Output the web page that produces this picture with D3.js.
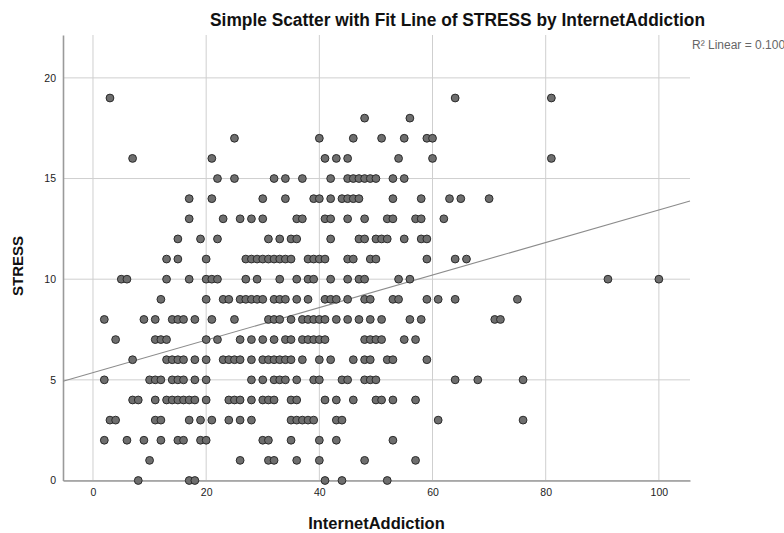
<!DOCTYPE html>
<html><head><meta charset="utf-8">
<script src="https://cdn.jsdelivr.net/npm/d3@7"></script>
<style>
html,body{margin:0;padding:0;background:#fff;overflow:hidden}
svg{display:block;font-family:"Liberation Sans",Arial,sans-serif}
</style></head>
<body><svg id="chart" width="784" height="533"></svg>
<script>
// ---- data ----
const chartTitle = "Simple Scatter with Fit Line of STRESS by InternetAddiction";
const xTitle = "InternetAddiction";
const yTitle = "STRESS";
const r2Label = "R\u00B2 Linear = 0.100";
const xTicks = [0, 20, 40, 60, 80, 100];
const yTicks = [0, 5, 10, 15, 20];
const stressLevels = [0,1,2,3,4,5,6,7,8,9,10,11,12,13,14,15,16,17,18,19];
// InternetAddiction values of the points found at each STRESS level
const addictionAtLevel = [
  [8,17,18,41,44,52],
  [10,26,31,32,36,40,48,57],
  [2,6,9,12,15,16,19,20,30,31,35,40,43,53],
  [3,4,11,12,17,19,21,24,26,28,35,36,37,38,39,43,44,61,76],
  [7,8,11,13,14,15,16,17,18,20,24,25,26,28,30,31,32,35,36,41,43,46,50,51,53,57],
  [2,10,11,12,14,15,16,18,20,28,30,32,33,34,36,39,40,44,45,48,49,50,64,68,76],
  [7,13,14,15,16,18,20,23,24,25,26,28,30,31,32,33,34,35,37,40,42,46,48,49,52,53,59],
  [4,11,12,13,20,22,26,28,30,32,34,35,37,38,39,40,41,48,49,50,51,55,57],
  [2,9,11,14,15,16,18,21,25,31,32,33,35,37,38,39,40,41,43,45,47,49,51,56,58,71,72],
  [12,20,23,24,26,27,28,29,30,32,33,34,36,38,41,42,43,45,48,49,53,54,59,61,64,75],
  [5,6,13,17,20,21,22,27,29,33,36,38,39,42,45,47,48,54,56,91,100],
  [13,15,20,27,28,29,30,31,32,33,34,35,38,39,40,41,45,46,49,50,59,64,66],
  [15,19,22,31,33,35,36,42,47,48,50,51,52,55,58,59],
  [17,23,26,28,30,36,37,41,42,45,48,52,53,57,58,62],
  [17,21,30,34,39,40,42,44,45,46,47,53,58,63,65,70],
  [22,25,32,34,37,42,45,46,47,48,49,50,53,55],
  [7,21,41,43,45,54,60,81],
  [25,40,46,51,55,59,60],
  [48,56],
  [3,64,81]
];
const fitIntercept = 5.36;
const fitSlope = 0.0808;
const xDomain = [-5.3, 105.5];
const yDomain = [0, 22.13];

// ---- build ----
const points = [];
stressLevels.forEach((s, i) => addictionAtLevel[i].forEach(a => points.push({x: a, y: s})));

const svg = d3.select("#chart");
const L = 63, R = 690, T = 35, B = 480.5;
const x = d3.scaleLinear().domain(xDomain).range([L, R]);
const y = d3.scaleLinear().domain(yDomain).range([B, T]);

// gridlines
svg.append("g").selectAll("line").data(xTicks).join("line")
  .attr("x1", d => x(d)).attr("x2", d => x(d)).attr("y1", T).attr("y2", B)
  .attr("stroke", "#cfcfcf").attr("stroke-width", 1);
svg.append("g").selectAll("line").data(yTicks).join("line")
  .attr("x1", L).attr("x2", R).attr("y1", d => y(d)).attr("y2", d => y(d))
  .attr("stroke", "#cfcfcf").attr("stroke-width", 1);

// axes
const xAxis = d3.axisBottom(x).tickValues(xTicks).tickSize(0).tickPadding(8);
const yAxis = d3.axisLeft(y).tickValues(yTicks).tickSize(0).tickPadding(7);
const gx = svg.append("g").attr("transform", `translate(0,${B})`).call(xAxis);
const gy = svg.append("g").attr("transform", `translate(${L},0)`).call(yAxis);
[gx, gy].forEach(g => {
  g.select(".domain").attr("stroke", "#9a9a9a").attr("stroke-width", 1.6);
  g.selectAll("text").attr("font-size", 10.5).attr("fill", "#222")
    .attr("font-family", "'Liberation Sans', Arial, sans-serif");
});

// fit line
svg.append("line")
  .attr("x1", x(xDomain[0])).attr("y1", y(fitIntercept + fitSlope * xDomain[0]))
  .attr("x2", x(xDomain[1])).attr("y2", y(fitIntercept + fitSlope * xDomain[1]))
  .attr("stroke", "#8c8c8c").attr("stroke-width", 1.1);

// points
svg.append("g").selectAll("circle").data(points).join("circle")
  .attr("cx", d => x(d.x)).attr("cy", d => y(d.y)).attr("r", 3.9)
  .attr("fill", "#6e6e6e").attr("stroke", "#2b2b2b").attr("stroke-width", 1);

// texts
svg.append("text").attr("x", 457.5).attr("y", 26).attr("text-anchor", "middle")
  .attr("font-size", 17.5).attr("font-weight", "bold").attr("fill", "#111")
  .attr("textLength", 495).attr("lengthAdjust", "spacingAndGlyphs").text(chartTitle);
svg.append("text").attr("x", 692).attr("y", 49)
  .attr("font-size", 12).attr("fill", "#666").text(r2Label);
svg.append("text").attr("x", (L + R) / 2).attr("y", 529).attr("text-anchor", "middle")
  .attr("font-size", 16.5).attr("font-weight", "bold").attr("fill", "#111").text(xTitle);
svg.append("text").attr("transform", "translate(23,266) rotate(-90)").attr("text-anchor", "middle")
  .attr("font-size", 15).attr("font-weight", "bold").attr("fill", "#111").text(yTitle);
</script></body></html>
